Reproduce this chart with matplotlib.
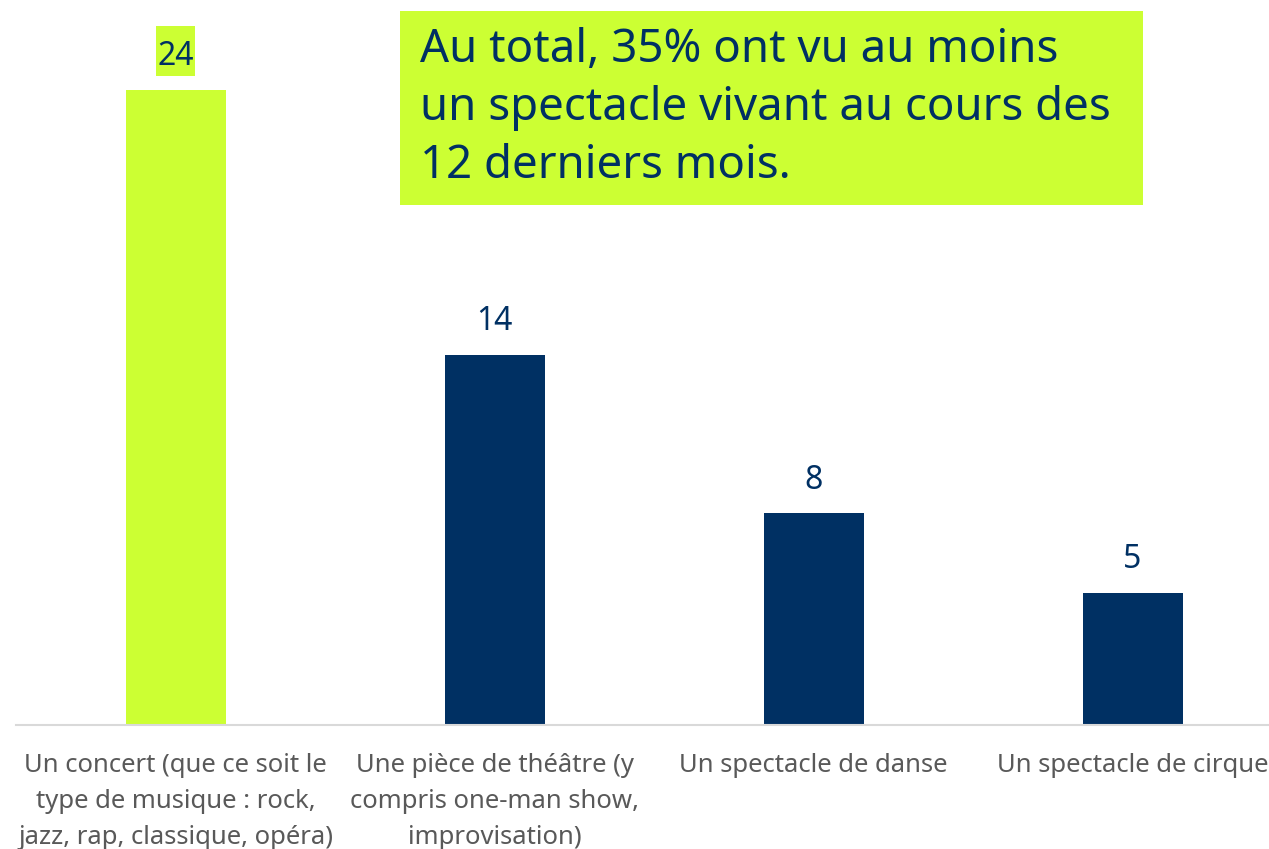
import matplotlib
matplotlib.use("Agg")
import matplotlib.pyplot as plt
from matplotlib.patches import Rectangle
from matplotlib.transforms import IdentityTransform

categories = [
    "Un concert (que ce soit le\ntype de musique : rock,\njazz, rap, classique, opéra)",
    "Une pièce de théâtre (y\ncompris one-man show,\nimprovisation)",
    "Un spectacle de danse",
    "Un spectacle de cirque",
]
values = [24, 14, 8, 5]
value_labels = ["24", "14", "8", "5"]
annotation = "Au total, 35% ont vu au moins\nun spectacle vivant au cours des\n12 derniers mois."

LIME = "#CCFF33"
NAVY = "#003063"
GRAY = "#595959"

plt.rcParams['font.family'] = ['Noto Sans', 'DejaVu Sans']

W, H = 1269, 849
fig = plt.figure(figsize=(W / 100, H / 100), dpi=100)
slot = 319.0
left_px = 16
right_px = W
ax = fig.add_axes([left_px / W, (H - 725) / H, (right_px - left_px) / W, 725 / H])
x = list(range(len(values)))
colors = [LIME] + [NAVY] * (len(values) - 1)
ax.bar(x, values, width=100 / slot, color=colors)
ax.set_xlim(-0.5, -0.5 + (right_px - left_px) / slot)
px_per_unit = 635 / 24
ax.set_ylim(0, 725 / px_per_unit)

texts = []
for i, (v, lab) in enumerate(zip(values, value_labels)):
    t = ax.annotate(lab, (i, v), xytext=(0, 12), textcoords='offset points',
                    ha='center', va='bottom', fontsize=23, color=NAVY, zorder=4)
    texts.append(t)

for s in ['top', 'right', 'left']:
    ax.spines[s].set_visible(False)
ax.spines['bottom'].set_color('#D9D9D9')
ax.spines['bottom'].set_linewidth(1.5)
ax.set_yticks([])
ax.set_xticks(x)
ax.set_xticklabels(categories, fontsize=18.5, color=GRAY, linespacing=1.58)
ax.tick_params(axis='x', length=0, pad=20)

fig.patches.append(Rectangle((400 / W, (H - 205) / H), 743 / W, 194 / H,
                             transform=fig.transFigure, facecolor=LIME,
                             edgecolor='none', zorder=0))
fig.text(420 / W, (H - 27) / H, annotation, ha='left', va='top', fontsize=32.8,
         color=NAVY, linespacing=1.34)

# highlight box behind the first value label
fig.canvas.draw()
bb = texts[0].get_window_extent()
hl = Rectangle((bb.x0 - 1, bb.y0 - 3), bb.width + 2, bb.height + 17,
               transform=IdentityTransform(), facecolor=LIME, edgecolor='none',
               zorder=3, clip_on=False)
ax.add_artist(hl)

fig.savefig("out.png", dpi=100)
